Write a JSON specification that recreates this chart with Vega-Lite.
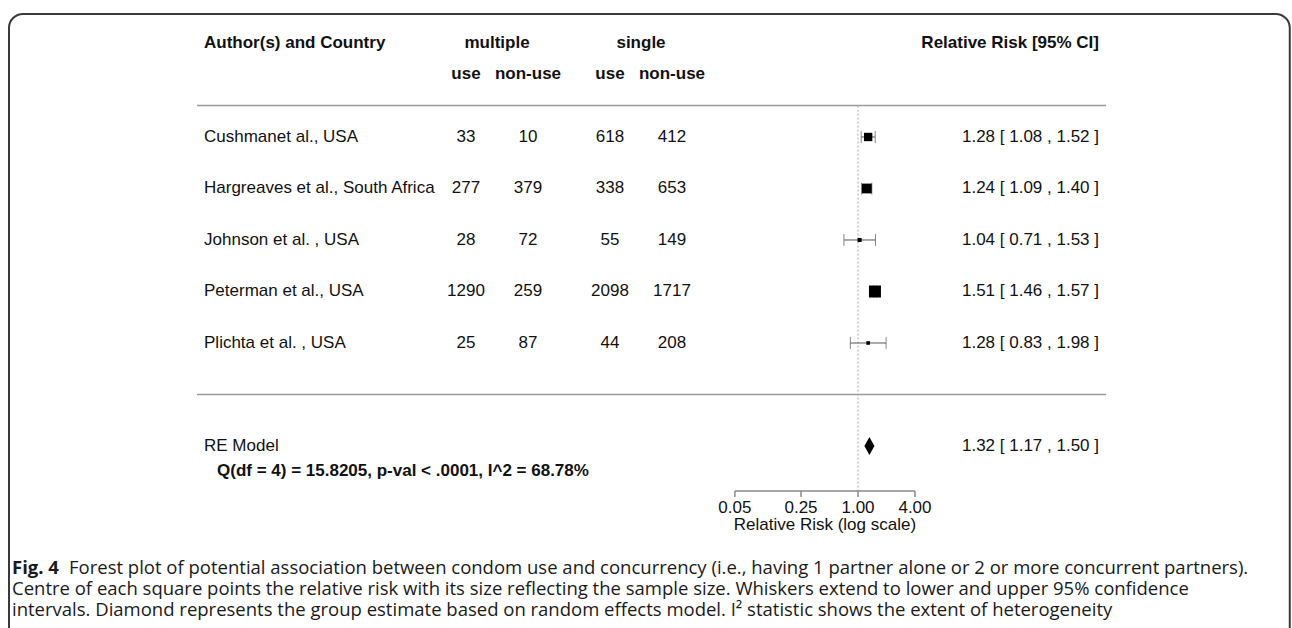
{
  "$schema": "https://vega.github.io/schema/vega-lite/v6.json",
  "width": 1292,
  "height": 628,
  "autosize": {"type": "none"},
  "padding": 0,
  "background": "white",
  "config": {
    "view": {"stroke": null},
    "axis": {"disable": true},
    "text": {"font": "Liberation Sans", "fontSize": 17, "color": "#111", "baseline": "middle"}
  },
  "datasets": {
    "one": [{"k": 1}],
    "studies": [
      {"study": "Cushmanet al., USA", "row": 5, "mu": "33", "mn": "10", "su": "618", "sn": "412", "est": 1.28, "lo": 1.08, "hi": 1.52, "ci": "1.28 [ 1.08 , 1.52 ]", "w": 22.6},
      {"study": "Hargreaves et al., South Africa", "row": 4, "mu": "277", "mn": "379", "su": "338", "sn": "653", "est": 1.24, "lo": 1.09, "hi": 1.40, "ci": "1.24 [ 1.09 , 1.40 ]", "w": 26.7},
      {"study": "Johnson et al. , USA", "row": 3, "mu": "28", "mn": "72", "su": "55", "sn": "149", "est": 1.04, "lo": 0.71, "hi": 1.53, "ci": "1.04 [ 0.71 , 1.53 ]", "w": 9.7},
      {"study": "Peterman et al., USA", "row": 2, "mu": "1290", "mn": "259", "su": "2098", "sn": "1717", "est": 1.51, "lo": 1.46, "hi": 1.57, "ci": "1.51 [ 1.46 , 1.57 ]", "w": 33.0},
      {"study": "Plichta et al. , USA", "row": 1, "mu": "25", "mn": "87", "su": "44", "sn": "208", "est": 1.28, "lo": 0.83, "hi": 1.98, "ci": "1.28 [ 0.83 , 1.98 ]", "w": 8.1}
    ],
    "summary": [
      {"label": "RE Model", "row": -1, "est": 1.32, "lo": 1.17, "hi": 1.50, "ci": "1.32 [ 1.17 , 1.50 ]", "stats": "Q(df = 4) = 15.8205, p-val < .0001, I^2 = 68.78%"}
    ],
    "ticks": [{"v": 0.05}, {"v": 0.25}, {"v": 1}, {"v": 4}]
  },
  "layer": [
    {
      "data": {"name": "one"},
      "mark": {"type": "rect", "filled": false, "stroke": "#3a3a3a", "strokeWidth": 2, "cornerRadius": 14},
      "encoding": {
        "x": {"datum": 1.0685e-9, "type": "quantitative", "scale": {"type": "log", "domain": [8.583e-10, 38546], "nice": false}},
        "x2": {"datum": 36500},
        "y": {"datum": 7.39, "type": "quantitative", "scale": {"type": "linear", "domain": [-4.534, 7.66], "nice": false, "zero": false}},
        "y2": {"datum": -6}
      }
    },
    {"data": {"name": "one"}, "mark": {"type": "text", "text": "Author(s) and Country", "fontWeight": "bold", "align": "left"},
     "encoding": {"x": {"datum": 1.229e-7, "type": "quantitative"}, "y": {"datum": 6.83, "type": "quantitative"}}},
    {"data": {"name": "one"}, "mark": {"type": "text", "text": "multiple", "fontWeight": "bold", "align": "center"},
     "encoding": {"x": {"datum": 1.532e-4, "type": "quantitative"}, "y": {"datum": 6.83, "type": "quantitative"}}},
    {"data": {"name": "one"}, "mark": {"type": "text", "text": "single", "fontWeight": "bold", "align": "center"},
     "encoding": {"x": {"datum": 5.093e-3, "type": "quantitative"}, "y": {"datum": 6.83, "type": "quantitative"}}},
    {"data": {"name": "one"}, "mark": {"type": "text", "text": "Relative Risk [95% CI]", "fontWeight": "bold", "align": "right"},
     "encoding": {"x": {"datum": 352, "type": "quantitative"}, "y": {"datum": 6.83, "type": "quantitative"}}},
    {"data": {"name": "one"}, "mark": {"type": "text", "text": "use", "fontWeight": "bold", "align": "center"},
     "encoding": {"x": {"datum": 7.208e-5, "type": "quantitative"}, "y": {"datum": 6.23, "type": "quantitative"}}},
    {"data": {"name": "one"}, "mark": {"type": "text", "text": "non-use", "fontWeight": "bold", "align": "center"},
     "encoding": {"x": {"datum": 3.258e-4, "type": "quantitative"}, "y": {"datum": 6.23, "type": "quantitative"}}},
    {"data": {"name": "one"}, "mark": {"type": "text", "text": "use", "fontWeight": "bold", "align": "center"},
     "encoding": {"x": {"datum": 2.396e-3, "type": "quantitative"}, "y": {"datum": 6.23, "type": "quantitative"}}},
    {"data": {"name": "one"}, "mark": {"type": "text", "text": "non-use", "fontWeight": "bold", "align": "center"},
     "encoding": {"x": {"datum": 1.083e-2, "type": "quantitative"}, "y": {"datum": 6.23, "type": "quantitative"}}},
    {"data": {"name": "one"}, "mark": {"type": "rule", "stroke": "#9a9a9a", "strokeWidth": 1.5},
     "encoding": {"x": {"datum": 1.0358e-7, "type": "quantitative"}, "x2": {"datum": 417.4}, "y": {"datum": 5.61, "type": "quantitative"}}},
    {"data": {"name": "one"}, "mark": {"type": "rule", "stroke": "#9a9a9a", "strokeWidth": 1.5},
     "encoding": {"x": {"datum": 1.0358e-7, "type": "quantitative"}, "x2": {"datum": 417.4}, "y": {"datum": 0, "type": "quantitative"}}},
    {"data": {"name": "one"}, "mark": {"type": "rule", "stroke": "#a8a8a8", "strokeWidth": 1, "strokeDash": [2, 2]},
     "encoding": {"x": {"datum": 1, "type": "quantitative"}, "y": {"datum": 5.61, "type": "quantitative"}, "y2": {"datum": -1.874}}},
    {"data": {"name": "studies"}, "mark": {"type": "text", "align": "left"},
     "encoding": {"x": {"datum": 1.229e-7, "type": "quantitative"}, "y": {"field": "row", "type": "quantitative"}, "text": {"field": "study"}}},
    {"data": {"name": "studies"}, "mark": {"type": "text", "align": "center"},
     "encoding": {"x": {"datum": 7.208e-5, "type": "quantitative"}, "y": {"field": "row", "type": "quantitative"}, "text": {"field": "mu"}}},
    {"data": {"name": "studies"}, "mark": {"type": "text", "align": "center"},
     "encoding": {"x": {"datum": 3.258e-4, "type": "quantitative"}, "y": {"field": "row", "type": "quantitative"}, "text": {"field": "mn"}}},
    {"data": {"name": "studies"}, "mark": {"type": "text", "align": "center"},
     "encoding": {"x": {"datum": 2.396e-3, "type": "quantitative"}, "y": {"field": "row", "type": "quantitative"}, "text": {"field": "su"}}},
    {"data": {"name": "studies"}, "mark": {"type": "text", "align": "center"},
     "encoding": {"x": {"datum": 1.083e-2, "type": "quantitative"}, "y": {"field": "row", "type": "quantitative"}, "text": {"field": "sn"}}},
    {"data": {"name": "studies"}, "mark": {"type": "text", "align": "right"},
     "encoding": {"x": {"datum": 352, "type": "quantitative"}, "y": {"field": "row", "type": "quantitative"}, "text": {"field": "ci"}}},
    {"data": {"name": "studies"}, "mark": {"type": "rule", "stroke": "#555", "strokeWidth": 1},
     "encoding": {"x": {"field": "lo", "type": "quantitative"}, "x2": {"field": "hi"}, "y": {"field": "row", "type": "quantitative"}}},
    {"data": {"name": "studies"}, "mark": {"type": "tick", "orient": "vertical", "color": "#555", "size": 12, "thickness": 1},
     "encoding": {"x": {"field": "lo", "type": "quantitative"}, "y": {"field": "row", "type": "quantitative"}}},
    {"data": {"name": "studies"}, "mark": {"type": "tick", "orient": "vertical", "color": "#555", "size": 12, "thickness": 1},
     "encoding": {"x": {"field": "hi", "type": "quantitative"}, "y": {"field": "row", "type": "quantitative"}}},
    {"data": {"name": "studies"}, "mark": {"type": "point", "shape": "square", "filled": true, "color": "#000", "opacity": 1},
     "encoding": {"x": {"field": "est", "type": "quantitative"}, "y": {"field": "row", "type": "quantitative"},
                  "size": {"field": "w", "type": "quantitative", "scale": {"type": "pow", "exponent": 2, "range": [13, 144], "zero": false}, "legend": null}}},
    {"data": {"name": "summary"}, "mark": {"type": "text", "align": "left"},
     "encoding": {"x": {"datum": 1.229e-7, "type": "quantitative"}, "y": {"field": "row", "type": "quantitative"}, "text": {"field": "label"}}},
    {"data": {"name": "summary"}, "mark": {"type": "text", "align": "right"},
     "encoding": {"x": {"datum": 352, "type": "quantitative"}, "y": {"field": "row", "type": "quantitative"}, "text": {"field": "ci"}}},
    {"data": {"name": "summary"}, "mark": {"type": "point", "shape": "M0,-1L0.56,0L0,1L-0.56,0Z", "filled": true, "color": "#000", "opacity": 1, "size": 324},
     "encoding": {"x": {"field": "est", "type": "quantitative"}, "y": {"field": "row", "type": "quantitative"}}},
    {"data": {"name": "summary"}, "mark": {"type": "text", "align": "left", "fontWeight": "bold"},
     "encoding": {"x": {"datum": 1.6855e-7, "type": "quantitative"}, "y": {"datum": -1.485, "type": "quantitative"}, "text": {"field": "stats"}}},
    {"data": {"name": "one"}, "mark": {"type": "rule", "stroke": "#8a8a8a", "strokeWidth": 1.5},
     "encoding": {"x": {"datum": 0.05, "type": "quantitative"}, "x2": {"datum": 4}, "y": {"datum": -1.874, "type": "quantitative"}}},
    {"data": {"name": "ticks"}, "mark": {"type": "rule", "stroke": "#8a8a8a", "strokeWidth": 1.5},
     "encoding": {"x": {"field": "v", "type": "quantitative"}, "y": {"datum": -1.874, "type": "quantitative"}, "y2": {"datum": -1.99}}},
    {"data": {"name": "ticks"}, "mark": {"type": "text", "align": "center"},
     "encoding": {"x": {"field": "v", "type": "quantitative"}, "y": {"datum": -2.204, "type": "quantitative"}, "text": {"field": "v", "type": "quantitative", "format": ".2f"}}},
    {"data": {"name": "one"}, "mark": {"type": "text", "text": "Relative Risk (log scale)", "align": "center"},
     "encoding": {"x": {"datum": 0.447, "type": "quantitative"}, "y": {"datum": -2.534, "type": "quantitative"}}},
    {"data": {"name": "one"}, "mark": {"type": "text", "text": "Fig. 4", "align": "left", "font": "Open Sans", "fontSize": 18.5, "fontWeight": "bold", "color": "#1a1a1a"},
     "encoding": {"x": {"datum": 1.1495e-9, "type": "quantitative"}, "y": {"datum": -3.369, "type": "quantitative"}}},
    {"data": {"name": "one"}, "mark": {"type": "text", "text": "Forest plot of potential association between condom use and concurrency (i.e., having 1 partner alone or 2 or more concurrent partners).", "align": "left", "font": "Open Sans", "fontSize": 18.5, "color": "#1a1a1a"},
     "encoding": {"x": {"datum": 4.6e-9, "type": "quantitative"}, "y": {"datum": -3.369, "type": "quantitative"}}},
    {"data": {"name": "one"}, "mark": {"type": "text", "text": "Centre of each square points the relative risk with its size reflecting the sample size. Whiskers extend to lower and upper 95% confidence", "align": "left", "font": "Open Sans", "fontSize": 18.5, "color": "#1a1a1a"},
     "encoding": {"x": {"datum": 1.1495e-9, "type": "quantitative"}, "y": {"datum": -3.777, "type": "quantitative"}}},
    {"data": {"name": "one"}, "mark": {"type": "text", "text": "intervals. Diamond represents the group estimate based on random effects model. I² statistic shows the extent of heterogeneity", "align": "left", "font": "Open Sans", "fontSize": 18.5, "color": "#1a1a1a"},
     "encoding": {"x": {"datum": 1.1495e-9, "type": "quantitative"}, "y": {"datum": -4.184, "type": "quantitative"}}}
  ]
}
